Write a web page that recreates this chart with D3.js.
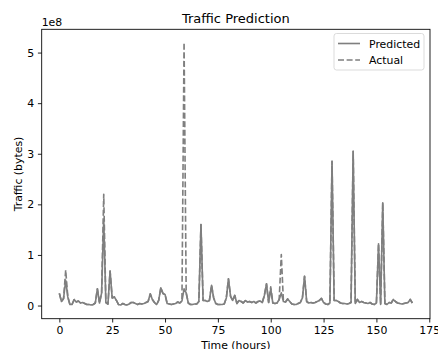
<!DOCTYPE html>
<html>
<head>
<meta charset="utf-8">
<script src="https://cdn.jsdelivr.net/npm/d3@7"></script>
<style>
  html, body { margin: 0; padding: 0; background: #fff; }
  svg { display: block; font-family: "DejaVu Sans", sans-serif; }
</style>
</head>
<body>
<svg id="chart" width="438" height="349"></svg>
<script>
// ---- data (values in units of 1e8 bytes) ----
const hours = d3.range(0, 168);
const predicted = [
  0.24, 0.08, 0.14, 0.50, 0.17, 0.02, 0.02, 0.12, 0.07, 0.09,
  0.05, 0.06, 0.04, 0.02, 0.02, 0.01, 0.02, 0.05, 0.33, 0.05,
  0.25, 1.70, 0.06, 0.03, 0.68, 0.15, 0.17, 0.10, 0.02, 0.01,
  0.04, 0.02, 0.01, 0.03, 0.06, 0.06, 0.04, 0.02, 0.04, 0.03,
  0.04, 0.06, 0.08, 0.23, 0.12, 0.06, 0.02, 0.10, 0.35, 0.24,
  0.22, 0.04, 0.03, 0.02, 0.03, 0.04, 0.07, 0.05, 0.09, 0.33,
  0.25, 0.05, 0.02, 0.02, 0.03, 0.03, 0.08, 1.60, 0.10, 0.10,
  0.08, 0.10, 0.40, 0.15, 0.04, 0.02, 0.02, 0.02, 0.03, 0.15,
  0.53, 0.18, 0.10, 0.20, 0.04, 0.10, 0.08, 0.05, 0.10, 0.07,
  0.08, 0.06, 0.08, 0.05, 0.08, 0.09, 0.06, 0.20, 0.43, 0.06,
  0.33, 0.05, 0.04, 0.05, 0.12, 0.25, 0.08, 0.07, 0.13, 0.08,
  0.03, 0.02, 0.02, 0.04, 0.06, 0.15, 0.58, 0.08, 0.05, 0.06,
  0.05, 0.06, 0.08, 0.10, 0.14, 0.06, 0.03, 0.02, 0.05, 2.85,
  0.10, 0.10, 0.08, 0.05, 0.04, 0.04, 0.03, 0.04, 0.06, 3.05,
  0.04, 0.12, 0.06, 0.08, 0.06, 0.05, 0.04, 0.06, 0.03, 0.02,
  0.05, 1.22, 0.02, 2.03, 0.04, 0.02, 0.06, 0.05, 0.12, 0.08,
  0.05, 0.04, 0.03, 0.04, 0.05, 0.06, 0.12, 0.05
];
const actual = [
  0.24, 0.08, 0.14, 0.70, 0.17, 0.02, 0.02, 0.12, 0.07, 0.09,
  0.05, 0.06, 0.04, 0.02, 0.02, 0.01, 0.02, 0.05, 0.33, 0.05,
  0.25, 2.20, 0.06, 0.03, 0.68, 0.15, 0.17, 0.10, 0.02, 0.01,
  0.04, 0.02, 0.01, 0.03, 0.06, 0.06, 0.04, 0.02, 0.04, 0.03,
  0.04, 0.06, 0.08, 0.23, 0.12, 0.06, 0.02, 0.10, 0.35, 0.24,
  0.22, 0.04, 0.03, 0.02, 0.03, 0.04, 0.07, 0.05, 0.09, 5.20,
  0.25, 0.05, 0.02, 0.02, 0.03, 0.03, 0.08, 1.60, 0.10, 0.10,
  0.08, 0.10, 0.40, 0.15, 0.04, 0.02, 0.02, 0.02, 0.03, 0.15,
  0.53, 0.18, 0.10, 0.20, 0.04, 0.10, 0.08, 0.05, 0.10, 0.07,
  0.08, 0.06, 0.08, 0.05, 0.08, 0.09, 0.06, 0.20, 0.43, 0.06,
  0.37, 0.05, 0.04, 0.05, 0.12, 1.01, 0.08, 0.07, 0.13, 0.08,
  0.03, 0.02, 0.02, 0.04, 0.06, 0.15, 0.58, 0.08, 0.05, 0.06,
  0.05, 0.06, 0.08, 0.10, 0.14, 0.06, 0.03, 0.02, 0.05, 2.85,
  0.10, 0.10, 0.08, 0.05, 0.04, 0.04, 0.03, 0.04, 0.06, 3.05,
  0.04, 0.12, 0.06, 0.08, 0.06, 0.05, 0.04, 0.06, 0.03, 0.02,
  0.05, 1.22, 0.02, 2.03, 0.04, 0.02, 0.06, 0.05, 0.12, 0.08,
  0.05, 0.04, 0.03, 0.04, 0.05, 0.06, 0.12, 0.05
];
const xTicks = [0, 25, 50, 75, 100, 125, 150, 175];
const yTicks = [0, 1, 2, 3, 4, 5];
const titleText = "Traffic Prediction";
const xLabel = "Time (hours)";
const yLabel = "Traffic (bytes)";
const offsetText = "1e8";
const seriesNames = ["Predicted", "Actual"];

// ---- layout ----
const L = 41.7, R = 430, T = 29.3, B = 318.7;
const color = "#7f7f7f";
const fs = 10.9;

const svg = d3.select("#chart");

const xMin = d3.min(hours), xMax = d3.max(hours);
const xPad = (xMax - xMin) * 0.05;
const x = d3.scaleLinear().domain([xMin - xPad, xMax + xPad]).range([L, R]);

const allVals = predicted.concat(actual);
const yLo = Math.min(0, d3.min(allVals)), yHi = d3.max(allVals);
const yPad = (yHi - yLo) * 0.05;
const y = d3.scaleLinear().domain([yLo - yPad, yHi + yPad]).range([B, T]);

// lines
const line = d3.line().x((d, i) => x(hours[i])).y(d => y(d));
const plot = svg.append("g");
plot.append("path").datum(predicted)
  .attr("d", line).attr("fill", "none").attr("stroke", color)
  .attr("stroke-width", 1.63).attr("stroke-linejoin", "round").attr("stroke-linecap", "butt");
plot.append("path").datum(actual)
  .attr("d", line).attr("fill", "none").attr("stroke", color)
  .attr("stroke-width", 1.63).attr("stroke-dasharray", "6,2.6").attr("stroke-linejoin", "round");

// axes
const xAxis = d3.axisBottom(x).tickValues(xTicks).tickSize(3.8).tickPadding(3.8).tickFormat(d3.format("d"));
const gx = svg.append("g").attr("transform", `translate(0,${B})`).call(xAxis);
const yAxis = d3.axisLeft(y).tickValues(yTicks).tickSize(3.8).tickPadding(3.8).tickFormat(d3.format("d"));
const gy = svg.append("g").attr("transform", `translate(${L},0)`).call(yAxis);
[gx, gy].forEach(g => {
  g.select(".domain").remove();
  g.selectAll(".tick line").attr("stroke", "#000").attr("stroke-width", 0.87);
  g.selectAll(".tick text").attr("font-size", fs).attr("font-family", "DejaVu Sans").attr("fill", "#000");
});

// spines
svg.append("rect").attr("x", L).attr("y", T).attr("width", R - L).attr("height", B - T)
  .attr("fill", "none").attr("stroke", "#000").attr("stroke-width", 0.87);

// title & labels
svg.append("text").attr("x", (L + R) / 2).attr("y", 22.5).attr("text-anchor", "middle")
  .attr("font-size", 13).text(titleText);
svg.append("text").attr("x", (L + R) / 2).attr("y", 349).attr("text-anchor", "middle")
  .attr("font-size", fs).text(xLabel);
svg.append("text").attr("transform", `translate(21.5,${(T + B) / 2}) rotate(-90)`)
  .attr("text-anchor", "middle").attr("font-size", fs).text(yLabel);
svg.append("text").attr("x", L).attr("y", 26).attr("font-size", fs).text(offsetText);

// legend
const lg = svg.append("g");
lg.append("rect").attr("x", 334).attr("y", 33.5).attr("width", 90).attr("height", 36.5)
  .attr("rx", 2.5).attr("fill", "#fff").attr("fill-opacity", 0.8)
  .attr("stroke", "#d6d6d6").attr("stroke-width", 0.87);
seriesNames.forEach((name, i) => {
  const cy = 43.5 + i * 16.5;
  lg.append("line").attr("x1", 338).attr("x2", 360).attr("y1", cy).attr("y2", cy)
    .attr("stroke", color).attr("stroke-width", 1.63)
    .attr("stroke-dasharray", i === 1 ? "6,2.6" : null);
  lg.append("text").attr("x", 369).attr("y", cy + 4).attr("font-size", fs).text(name);
});
</script>
</body>
</html>
